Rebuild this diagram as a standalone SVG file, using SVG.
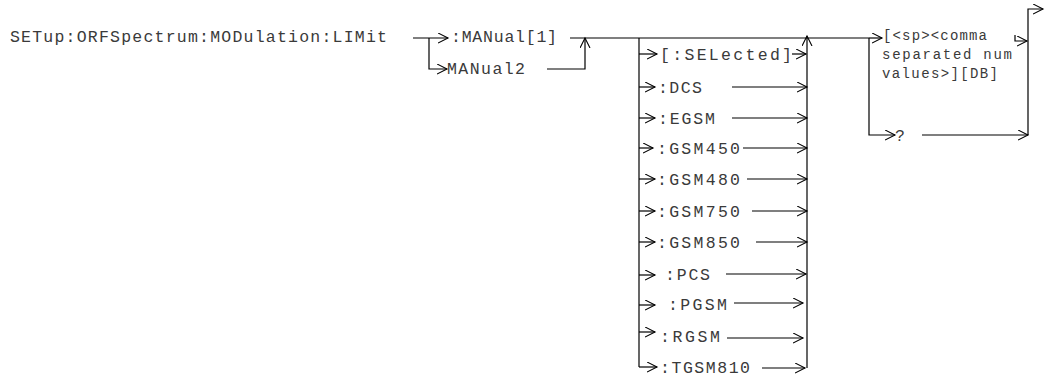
<svg xmlns="http://www.w3.org/2000/svg" width="1045" height="381" viewBox="0 0 1045 381">
<defs>
<marker id="ah" markerUnits="userSpaceOnUse" markerWidth="12" markerHeight="12" refX="10" refY="5" orient="auto" viewBox="0 0 12 12">
<path d="M0,0 L10,5 L0,10" fill="none" stroke="#000" stroke-width="1.1"/>
</marker>
<style>
.t{font-family:"Liberation Mono","Courier New",monospace;font-size:16.5px;fill:#3a3a3a}
.s{font-family:"Liberation Mono","Courier New",monospace;font-size:14px;fill:#3a3a3a}
.c line,.c path{stroke:#000;stroke-width:1.2;fill:none}
.a{marker-end:url(#ah)}
</style>
</defs>
<rect width="1045" height="381" fill="#fff"/>
<g id="title"><text class="t" x="10" y="42" textLength="377" lengthAdjust="spacing">SETup:ORFSpectrum:MODulation:LIMit</text></g>
<g id="manual1"><text class="t" x="451" y="42" textLength="106" lengthAdjust="spacing">:MANual[1]</text></g>
<g id="manual2"><text class="t" x="447" y="74" textLength="78" lengthAdjust="spacing">MANual2</text></g>
<g id="selected"><text class="t" x="660" y="60" textLength="132" lengthAdjust="spacing">[:SELected]</text></g>
<g id="dcs"><text class="t" x="658" y="93" textLength="44" lengthAdjust="spacing">:DCS</text></g>
<g id="egsm"><text class="t" x="658" y="124" textLength="57" lengthAdjust="spacing">:EGSM</text></g>
<g id="gsm450"><text class="t" x="657" y="154" textLength="83" lengthAdjust="spacing">:GSM450</text></g>
<g id="gsm480"><text class="t" x="657" y="185" textLength="83" lengthAdjust="spacing">:GSM480</text></g>
<g id="gsm750"><text class="t" x="657" y="217" textLength="83" lengthAdjust="spacing">:GSM750</text></g>
<g id="gsm850"><text class="t" x="657" y="248" textLength="83" lengthAdjust="spacing">:GSM850</text></g>
<g id="pcs"><text class="t" x="665" y="280" textLength="45" lengthAdjust="spacing">:PCS</text></g>
<g id="pgsm"><text class="t" x="668" y="310" textLength="59" lengthAdjust="spacing">:PGSM</text></g>
<g id="rgsm"><text class="t" x="660" y="342" textLength="60" lengthAdjust="spacing">:RGSM</text></g>
<g id="tgsm810"><text class="t" x="660" y="373" textLength="90" lengthAdjust="spacing">:TGSM810</text></g>
<g id="values">
<text class="s" x="883" y="40" textLength="104" lengthAdjust="spacing">[&lt;sp&gt;&lt;comma</text>
<text class="s" x="882" y="59" textLength="130" lengthAdjust="spacing">separated num</text>
<text class="s" x="882" y="78" textLength="116" lengthAdjust="spacing">values&gt;][DB]</text>
</g>
<g id="query"><text class="t" x="895" y="141">?</text></g>
<g id="connectors" class="c">
<line class="a" x1="413" y1="38" x2="448" y2="38"/>
<path class="a" d="M429,38 V69 H447"/>
<line x1="570" y1="38" x2="869" y2="38"/>
<line class="a" x1="869" y1="38" x2="882" y2="38"/>
<path class="a" d="M547,69 H585 V38"/>
<path d="M639,38 V367"/>
<line class="a" x1="639" y1="54" x2="657" y2="54"/>
<line class="a" x1="792" y1="54" x2="806" y2="54"/>
<line class="a" x1="639" y1="87" x2="655" y2="87"/>
<line class="a" x1="732" y1="87" x2="807" y2="87"/>
<line class="a" x1="639" y1="118" x2="655" y2="118"/>
<line class="a" x1="732" y1="118" x2="807" y2="118"/>
<line class="a" x1="639" y1="148" x2="653" y2="148"/>
<line class="a" x1="743" y1="148" x2="807" y2="148"/>
<line class="a" x1="639" y1="179" x2="655" y2="179"/>
<line class="a" x1="747" y1="179" x2="807" y2="179"/>
<line class="a" x1="639" y1="211" x2="655" y2="211"/>
<line class="a" x1="752" y1="211" x2="807" y2="211"/>
<line class="a" x1="639" y1="242" x2="655" y2="242"/>
<line class="a" x1="756" y1="242" x2="807" y2="242"/>
<line class="a" x1="639" y1="275" x2="655" y2="275"/>
<line class="a" x1="726" y1="274" x2="806" y2="274"/>
<line class="a" x1="639" y1="305" x2="655" y2="305"/>
<line class="a" x1="734" y1="303" x2="803" y2="303"/>
<line class="a" x1="639" y1="332" x2="655" y2="332"/>
<line class="a" x1="727" y1="338" x2="803" y2="338"/>
<path class="a" d="M639,367 H657"/>
<line class="a" x1="762" y1="368" x2="805" y2="368"/>
<path class="a" d="M807,368 V36"/>
<path class="a" d="M869,38 V135 H895"/>
<line class="a" x1="922" y1="135" x2="1028" y2="135"/>
<path class="a" d="M1015,35 V41 H1027"/>
<path class="a" d="M1028,135 V9 H1043"/>
</g>
</svg>
